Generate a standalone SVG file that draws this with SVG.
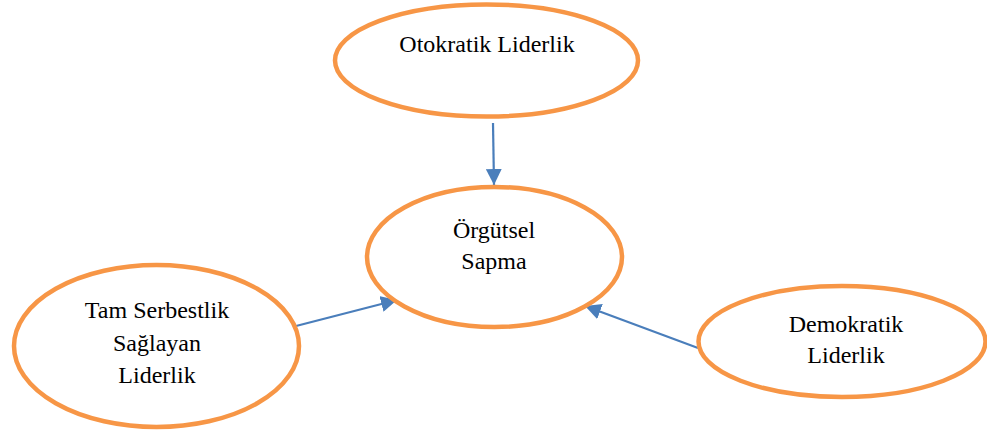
<svg xmlns="http://www.w3.org/2000/svg" width="987" height="432" viewBox="0 0 987 432">
<style>
.node ellipse{fill:#fff;stroke:#F79646;stroke-width:4.5}
.node text{font-family:"Liberation Serif","Times New Roman",serif;font-size:24px;fill:#000;text-anchor:middle}
.edge{stroke:#4A7EBB;stroke-width:2.2;fill:none;marker-end:url(#ah)}
</style>
<defs>
<marker id="ah" markerUnits="userSpaceOnUse" markerWidth="17" markerHeight="16" refX="16" refY="8" orient="auto" viewBox="0 0 17 16">
<path d="M0,0 L16,8 L0,16 z" fill="#4A7EBB"/>
</marker>
</defs>
<rect width="987" height="432" fill="#fff"/>
<g id="connectors">
<line class="edge" x1="493" y1="123" x2="494" y2="185"/>
<line class="edge" x1="296" y1="326" x2="397" y2="300"/>
<line class="edge" x1="698" y1="348" x2="585" y2="306"/>
</g>
<g id="otokratik" class="node">
<ellipse cx="486.5" cy="60.5" rx="151.5" ry="56"/>
<text x="487" y="52">Otokratik Liderlik</text>
</g>
<g id="orgutsel" class="node">
<ellipse cx="494.5" cy="257" rx="127.5" ry="70"/>
<text x="494" y="238">Örgütsel</text>
<text x="494" y="269">Sapma</text>
</g>
<g id="tamserbestlik" class="node">
<ellipse cx="156.5" cy="346" rx="142.5" ry="81"/>
<text x="157" y="318">Tam Serbestlik</text>
<text x="157" y="351">Sağlayan</text>
<text x="157" y="383">Liderlik</text>
</g>
<g id="demokratik" class="node">
<ellipse cx="842" cy="341.5" rx="143.5" ry="55.5"/>
<text x="846" y="332">Demokratik</text>
<text x="846" y="363">Liderlik</text>
</g>
</svg>
